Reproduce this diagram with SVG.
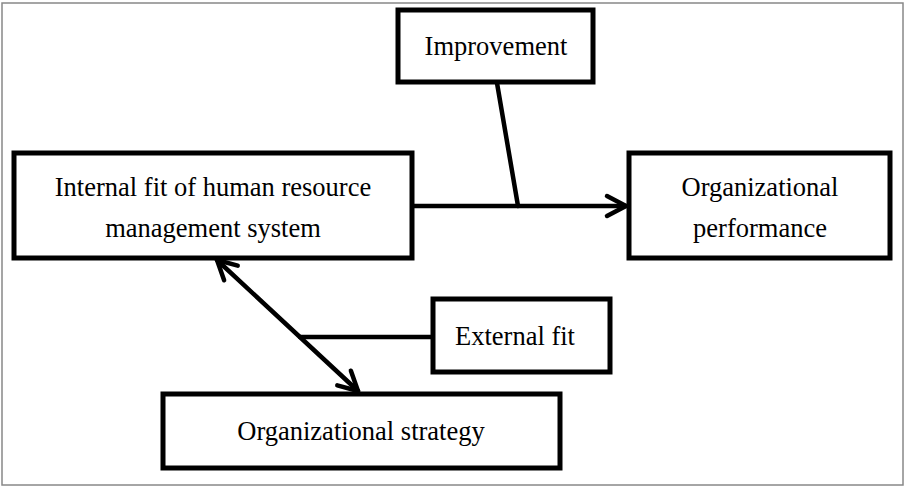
<svg xmlns="http://www.w3.org/2000/svg" width="906" height="489" viewBox="0 0 906 489">
<style>
.box{fill:#fff;stroke:#000;stroke-width:5}
.t{font-family:"Liberation Serif","Times New Roman",serif;font-size:26.5px;fill:#000;text-anchor:middle}
.c{stroke:#000;stroke-width:4.5;fill:none;stroke-linecap:round}
</style>
<defs>
<marker id="ah" viewBox="0 0 12 12" refX="10" refY="6" markerWidth="12" markerHeight="12" markerUnits="userSpaceOnUse" orient="auto-start-reverse" overflow="visible">
<path d="M-9,-4 L10,6 L-9,16" fill="none" stroke="#000" stroke-width="4.5" stroke-linecap="round" stroke-linejoin="round"/>
</marker>
</defs>
<rect x="2" y="3" width="901" height="482" fill="#fff" stroke="#888" stroke-width="1.5"/>
<g id="connectors">
<line class="c" x1="413" y1="206" x2="626" y2="206" marker-end="url(#ah)"/>
<line class="c" x1="497" y1="83" x2="518" y2="206"/>
<line class="c" x1="217" y1="260" x2="358" y2="391" marker-start="url(#ah)" marker-end="url(#ah)"/>
<line class="c" x1="300" y1="337" x2="433" y2="337"/>
</g>
<g id="improvement">
<rect class="box" x="398" y="10" width="195" height="72"/>
<text class="t" x="496" y="55">Improvement</text>
</g>
<g id="internal-fit">
<rect class="box" x="14" y="153" width="398" height="105"/>
<text class="t" x="213" y="196">Internal fit of human resource</text>
<text class="t" x="213" y="237">management system</text>
</g>
<g id="org-performance">
<rect class="box" x="629" y="153" width="261" height="105"/>
<text class="t" x="760" y="196">Organizational</text>
<text class="t" x="760" y="237">performance</text>
</g>
<g id="external-fit">
<rect class="box" x="433" y="299" width="177" height="73"/>
<text class="t" x="515" y="345">External fit</text>
</g>
<g id="org-strategy">
<rect class="box" x="163" y="394" width="397" height="74"/>
<text class="t" x="361" y="440">Organizational strategy</text>
</g>
</svg>
